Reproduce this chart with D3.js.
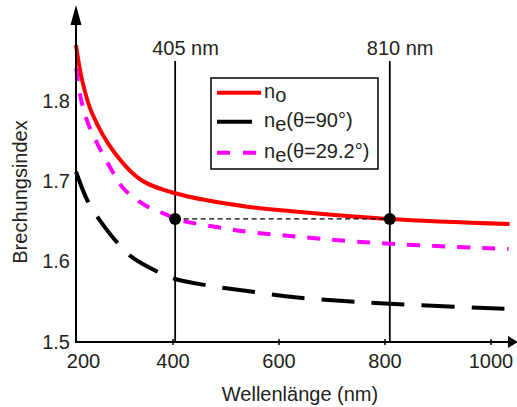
<!DOCTYPE html>
<html>
<head>
<meta charset="utf-8">
<script src="https://cdn.jsdelivr.net/npm/d3@7"></script>
<style>
  html, body { margin: 0; padding: 0; background: #fff; }
  svg text { font-family: "Liberation Sans", Arial, Helvetica, sans-serif; font-size: 20px; fill: #231f20; }
</style>
</head>
<body>
<script>
'use strict';

const width = 517;
const height = 407;

// wavelength (nm) / refractive index
const noWl = [190, 198.7, 220, 271.4, 329.8, 405, 541, 636, 810, 1036];
const noVal = [1.8693, 1.8257, 1.7847, 1.7346, 1.7014, 1.6849, 1.6682, 1.662, 1.653, 1.6467];

const ne90Wl = [190, 211.1, 234.5, 274.8, 307.7, 366.4, 405, 467.5, 541, 636, 800.5, 1034];
const ne90Val = [1.7117, 1.6744, 1.6538, 1.6247, 1.6061, 1.5874, 1.5783, 1.5702, 1.5634, 1.5553, 1.5479, 1.541];

const ne292Wl = [190.4, 196.4, 212.7, 263.9, 293.4, 344.5, 388.4, 405, 497.3, 541, 636, 794, 1034];
const ne292Val = [1.8403, 1.805, 1.7698, 1.7139, 1.689, 1.6682, 1.6579, 1.653, 1.6414, 1.6371, 1.6309, 1.6227, 1.6156];

const xTicks = [200, 400, 600, 800, 1000];
const yTicks = [1.5, 1.6, 1.7, 1.8];
const markerWl = [405, 810];
const markerLabels = ['405 nm', '810 nm'];
const markerN = 1.653;

const legendLabels = [['n', 'o', ''], ['n', 'e', '(θ=90°)'], ['n', 'e', '(θ=29.2°)']];

const svg = d3.select('body').append('svg').attr('width', width).attr('height', height);

// the original x axis is squeezed a little at its left end
let x = d3.scaleLinear().domain([190, 200, 400, 1000]).range([76, 83, 172.5, 490.5]);
let y = d3.scaleLinear().domain([1.5, 1.8]).range([342, 100.7]);

let series = [
    { wl: noWl, val: noVal, color: '#ff0000', dash: null },
    { wl: ne90Wl, val: ne90Val, color: '#000000', dash: '33,17' },
    { wl: ne292Wl, val: ne292Val, color: '#ff00ff', dash: '13,12' }
];

let line = d3.line()
    .x(d => x(d[0]))
    .y(d => y(d[1]))
    .curve(d3.curveCatmullRom.alpha(0.5));

// marker verticals
svg.append('g')
    .selectAll('line')
    .data(markerWl)
    .join('line')
    .attr('x1', d => x(d)).attr('x2', d => x(d))
    .attr('y1', 61).attr('y2', y(1.5))
    .attr('stroke', '#000').attr('stroke-width', 1.8);

svg.append('g')
    .selectAll('text')
    .data(markerWl)
    .join('text')
    .attr('x', d => x(d) - 23)
    .attr('y', 55)
    .text((d, i) => markerLabels[i]);

for (let s of series) {
    svg.append('path')
        .datum(s.wl.map((w, i) => [w, s.val[i]]))
        .attr('fill', 'none')
        .attr('stroke', s.color)
        .attr('stroke-width', 4)
        .attr('stroke-dasharray', s.dash)
        .attr('d', line);
}

// dashed connector and dots
svg.append('line')
    .attr('x1', x(markerWl[0])).attr('x2', x(markerWl[1]))
    .attr('y1', y(markerN)).attr('y2', y(markerN))
    .attr('stroke', '#000').attr('stroke-width', 1.3)
    .attr('stroke-dasharray', '5,3.5');

svg.append('g')
    .selectAll('circle')
    .data(markerWl)
    .join('circle')
    .attr('cx', d => x(d))
    .attr('cy', y(markerN))
    .attr('r', 6)
    .attr('fill', '#000');

// axes
const xAxis = d3.axisBottom(x).tickValues(xTicks).tickSize(3).tickFormat(d3.format('d'));
let gx = svg.append('g')
    .attr('transform', 'translate(0,' + y(1.5) + ')')
    .call(xAxis);
gx.select('.domain').remove();
gx.selectAll('.tick line').attr('y1', -3).attr('y2', 3).attr('stroke-width', 1.5)
    .attr('display', d => d === 200 ? 'none' : null);
gx.selectAll('.tick text').attr('y', 12).attr('dy', '0.71em').attr('fill', '#231f20');

const yAxis = d3.axisLeft(y).tickValues(yTicks).tickSize(0).tickPadding(6).tickFormat(d3.format('.1f'));
let gy = svg.append('g')
    .attr('transform', 'translate(' + x(190) + ',0)')
    .call(yAxis);
gy.select('.domain').remove();
gy.selectAll('.tick text').attr('fill', '#231f20');

gx.attr('font-family', null).attr('font-size', null);
gy.attr('font-family', null).attr('font-size', null);

// axis lines with arrow heads
svg.append('path')
    .attr('d', 'M' + x(190) + ',24 V' + y(1.5) + ' H509')
    .attr('fill', 'none').attr('stroke', '#000').attr('stroke-width', 2);
svg.append('path')
    .attr('d', 'M' + (x(190) - 5.5) + ',25 L' + x(190) + ',5 L' + (x(190) + 5.5) + ',25 Z')
    .attr('fill', '#000');
svg.append('path')
    .attr('d', 'M508,' + (y(1.5) - 6) + ' L518,' + y(1.5) + ' L508,' + (y(1.5) + 6) + ' Z')
    .attr('fill', '#000');

svg.append('text')
    .attr('x', 300).attr('y', 401)
    .attr('text-anchor', 'middle')
    .text('Wellenlänge (nm)');

svg.append('text')
    .attr('transform', 'translate(27,192) rotate(-90)')
    .attr('text-anchor', 'middle')
    .text('Brechungsindex');

// legend
let legend = svg.append('g');
legend.append('rect')
    .attr('x', 211).attr('y', 78).attr('width', 167).attr('height', 91)
    .attr('fill', '#fff').attr('stroke', '#000').attr('stroke-width', 1.5);

const legendY = [92.7, 121.7, 152.7];
const legendLen = [44, 35, 39];
series.forEach((s, i) => {
    legend.append('line')
        .attr('x1', 217).attr('x2', 217 + legendLen[i])
        .attr('y1', legendY[i]).attr('y2', legendY[i])
        .attr('stroke', s.color).attr('stroke-width', 4)
        .attr('stroke-dasharray', i === 2 ? '13,13' : null);
    let t = legend.append('text').attr('x', 264).attr('y', legendY[i] + 5);
    t.append('tspan').text(legendLabels[i][0]);
    t.append('tspan').attr('dy', 4).text(legendLabels[i][1]);
    if (legendLabels[i][2]) t.append('tspan').attr('dy', -4).text(legendLabels[i][2]);
});
</script>
</body>
</html>
